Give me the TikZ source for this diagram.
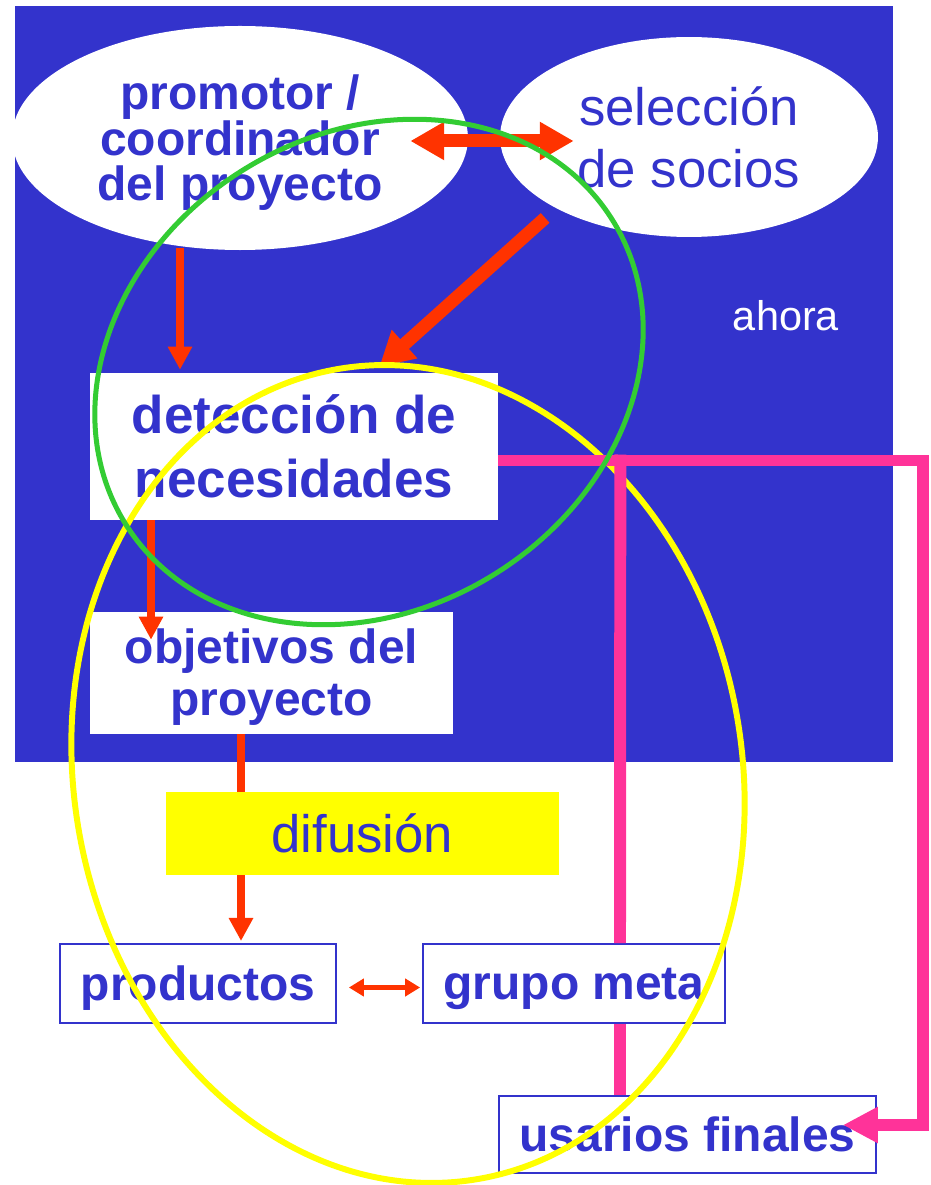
\documentclass[tikz,border=0pt]{standalone}
\usepackage{fontspec}
\setmainfont{Liberation Sans}
\usetikzlibrary{shapes.geometric,arrows.meta,calc}
\definecolor{panelblue}{RGB}{51,51,204}
\definecolor{flowred}{RGB}{255,51,0}
\definecolor{linkpink}{RGB}{255,51,153}
\definecolor{ringgreen}{RGB}{51,204,51}
\definecolor{ringyellow}{RGB}{255,255,0}
\begin{document}
\begin{tikzpicture}[x=0.02cm,y=-0.02cm,
    cloud/.style={ellipse, fill=white, text=panelblue, inner sep=0pt, align=center},
    whitebox/.style={rectangle, fill=white, text=panelblue, inner sep=0pt, align=center},
    framebox/.style={whitebox, draw=panelblue, line width=1.1pt},
    bigline/.style={draw=flowred, line width=7.4pt},
    bigarrow/.style={bigline, -{Triangle[length=19.3pt,width=20.5pt]}},
    bigpair/.style={bigline, {Triangle[length=19.3pt,width=20.5pt]}-{Triangle[length=19.3pt,width=20.5pt]}},
    midarrow/.style={draw=flowred, line width=4.6pt, -{Triangle[length=13.1pt,width=13.1pt]}},
    thinarrow/.style={draw=flowred, line width=2.8pt, {Triangle[length=8.5pt,width=9.7pt]}-{Triangle[length=8.5pt,width=9.7pt]}},
    pinkline/.style={draw=linkpink, line width=6.8pt},
    ring/.style={line width=3pt}]
    \useasboundingbox (0,0) rectangle (930,1185);

    % Draw background panel
    \fill[panelblue] (15,6) rectangle (893,762);

    % Draw top ellipses
    \node[cloud, minimum width=259.5pt, minimum height=127.5pt, text depth=-3.4pt, font=\fontsize{27.3}{25.9}\selectfont\bfseries] (promotor) at (240,138) {promotor /\\coordinador\\del proyecto};
    \node[cloud, minimum width=215.1pt, minimum height=113.8pt, font=\fontsize{30}{35.3}\selectfont] (socios) at (689,137) {selección\\de socios};
    \node[text=white, font=\fontsize{23.6}{28}\selectfont] (ahora) at (786,316) {ahora};

    % Draw boxes
    \node[whitebox, minimum width=232.2pt, minimum height=83.6pt, font=\fontsize{30.2}{36.4}\selectfont\bfseries] (deteccion) at (294,446.5) {detección de\\necesidades};
    \node[whitebox, minimum width=206.5pt, minimum height=69.4pt, text depth=1.1pt, font=\fontsize{27.3}{29.6}\selectfont\bfseries] (objetivos) at (271.5,673) {objetivos del\\proyecto};
    \node[whitebox, fill=ringyellow, minimum width=223.6pt, minimum height=47.2pt, font=\fontsize{30}{36}\selectfont] (difusion) at (362.5,833.5) {difusión};
    \node[framebox, minimum width=157pt, minimum height=45pt, text depth=-1.1pt, font=\fontsize{27.3}{30}\selectfont\bfseries] (productos) at (198,983.5) {productos};
    \node[framebox, minimum width=171.8pt, minimum height=45pt, text depth=-1.1pt, font=\fontsize{27.3}{30}\selectfont\bfseries] (grupo) at (574,983.5) {grupo meta};
    \node[framebox, minimum width=214.5pt, minimum height=43.8pt, font=\fontsize{27.3}{30}\selectfont\bfseries] (usuarios) at (687.5,1134.5) {usarios finales};

    % Draw red flow arrows
    \draw[bigpair] ($(promotor.east)+(-58,3)$) -- ($(socios.west)+(74,4)$);
    \draw[bigarrow] ($(socios.south west)+(-10,10)$) -- ($(deteccion.north east)+(-119,-6)$);
    \draw[midarrow] ($(promotor.south)+(-60,-2)$) -- ($(deteccion.north)+(-114,-3)$);
    \draw[midarrow] ($(deteccion.south)+(-143,0)$) -- ($(objetivos.north)+(-120.5,28)$);
    \draw[draw=flowred, line width=4.6pt] ($(objetivos.south)+(-30.5,0)$) -- ($(difusion.north)+(-121.5,0)$);
    \draw[midarrow] ($(difusion.south)+(-121.5,0)$) -- ($(productos.north)+(43,-2)$);
    \draw[thinarrow] ($(productos.east)+(12,4)$) -- ($(grupo.west)+(-2,4)$);

    % Draw yellow ring
    \draw[ring, ringyellow, line width=3.4pt, rotate around={10:(408,774)}] (408,774) ellipse [x radius=334, y radius=411];

    % Draw pink links
    \draw[pinkline, -{Triangle[length=19.9pt,width=19.3pt]}] ($(deteccion.east)+(0,14)$) -- ++(425,0) |- ($(usuarios.east)+(-34,-9.5)$);
    \draw[pinkline] ($(deteccion.east)+(122,8)$) -- ($(grupo.north)+(46,0)$);
    \draw[pinkline] ($(grupo.south)+(46,0)$) -- ($(usuarios.north)+(-67.5,0)$);

    % Draw green ring
    \draw[ring, ringgreen, line width=2.85pt, rotate around={32:(369,372)}] (369,372) ellipse [x radius=287, y radius=238];
\end{tikzpicture}
\end{document}
